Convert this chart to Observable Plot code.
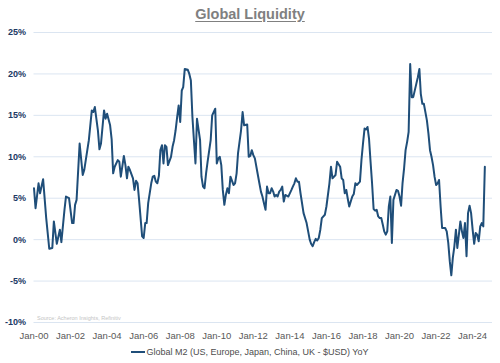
<!DOCTYPE html>
<html>
<head>
<meta charset="utf-8">
<script src="https://cdn.jsdelivr.net/npm/d3@7"></script>
<script src="https://cdn.jsdelivr.net/npm/@observablehq/plot@0.6"></script>
<style>
  html, body { margin: 0; padding: 0; background: #fff; }
  body { width: 500px; height: 363px; overflow: hidden; font-family: "Liberation Sans", Arial, sans-serif; }
  #title { height: 28px; line-height: 28px; text-align: center; font-size: 14.5px; font-weight: bold; color: #808080; }
  #title span { text-decoration: underline; text-underline-offset: 2px; }
  #legend { height: 12px; line-height: 12px; display: flex; justify-content: center; align-items: center; font-size: 9px; color: #4d4d4d; }
  #legend .sw { width: 14px; height: 2.5px; background: #1f4e79; margin-right: 1px; }
</style>
</head>
<body>
<div id="title"><span>Global Liquidity</span></div>
<div id="chart"></div>
<div id="legend"><div class="sw"></div><div id="legtext"></div></div>
<script>
const titleText = "Global Liquidity";
const seriesName = "Global M2 (US, Europe, Japan, China, UK - $USD) YoY";
const sourceText = "Source: Acheron Insights, Refinitiv";

const months = [
  "2000-01","2000-02","2000-04","2000-05","2000-07","2000-09","2000-11",
  "2001-01","2001-02","2001-04","2001-06","2001-07","2001-09","2001-10","2001-12",
  "2002-02","2002-03","2002-04","2002-05","2002-07","2002-09","2002-10",
  "2003-01","2003-03","2003-04","2003-05","2003-07","2003-08","2003-09","2003-11","2003-12",
  "2004-01","2004-03","2004-04","2004-05","2004-06","2004-08","2004-09","2004-10","2004-12",
  "2005-01","2005-02","2005-03","2005-04","2005-06","2005-07","2005-08","2005-09","2005-10","2005-12",
  "2006-01","2006-02","2006-03","2006-04","2006-06","2006-07","2006-08","2006-09","2006-10","2006-11","2006-12",
  "2007-01","2007-02","2007-03","2007-04","2007-05","2007-07","2007-08","2007-09","2007-10","2007-11","2007-12",
  "2008-01","2008-02","2008-03","2008-04","2008-06","2008-07","2008-08","2008-09","2008-10","2008-11","2008-12",
  "2009-02","2009-03","2009-04","2009-05","2009-06","2009-07","2009-09","2009-10","2009-12",
  "2010-01","2010-02","2010-03","2010-04","2010-05","2010-06","2010-07","2010-08","2010-09","2010-10","2010-12",
  "2011-01","2011-02","2011-03","2011-05","2011-06","2011-07","2011-09","2011-10","2011-11","2011-12",
  "2012-01","2012-02","2012-04","2012-05","2012-06","2012-07","2012-08","2012-09","2012-10","2012-11","2012-12",
  "2013-01","2013-02","2013-03","2013-04","2013-05","2013-06","2013-07","2013-08","2013-09","2013-10","2013-12",
  "2014-02","2014-03","2014-04","2014-05","2014-06","2014-07","2014-08","2014-10","2014-12",
  "2015-01","2015-02","2015-03","2015-04","2015-05","2015-06","2015-07","2015-08","2015-09","2015-10","2015-12",
  "2016-01","2016-03","2016-04","2016-05","2016-07","2016-08","2016-10","2016-11","2016-12",
  "2017-01","2017-02","2017-03","2017-04","2017-05","2017-06","2017-07","2017-08","2017-09","2017-11","2017-12",
  "2018-01","2018-02","2018-03","2018-04","2018-05","2018-06","2018-07","2018-08","2018-09","2018-10","2018-11","2018-12",
  "2019-01","2019-02","2019-03","2019-04","2019-05","2019-06","2019-07","2019-08","2019-09","2019-11","2019-12",
  "2020-01","2020-02","2020-03","2020-04","2020-05","2020-06","2020-07","2020-08","2020-09","2020-10","2020-12",
  "2021-01","2021-02","2021-03","2021-04","2021-05","2021-07","2021-08","2021-09","2021-10","2021-11","2021-12",
  "2022-01","2022-02","2022-03","2022-04","2022-05","2022-07","2022-08","2022-09","2022-10","2022-11","2022-12",
  "2023-01","2023-02","2023-03","2023-04","2023-05","2023-06","2023-07","2023-08","2023-09","2023-10","2023-11","2023-12",
  "2024-01","2024-02","2024-03","2024-04","2024-05","2024-06","2024-07","2024-08","2024-09"
];

const m2YoY = [
  6.2,3.8,6.8,5.6,7.3,2.6,-1.1,
  -1.0,2.2,-0.5,1.2,-0.3,3.6,5.2,5.0,
  2.0,2.0,4.2,4.8,11.6,7.8,8.4,
  12.0,15.6,15.4,16.0,13.2,10.9,11.6,15.6,14.6,
  15.2,13.8,12.1,8.0,8.8,9.6,9.4,7.6,10.1,
  9.0,7.4,8.8,8.4,7.4,6.0,7.1,6.8,4.8,0.4,
  0.2,2.0,2.0,4.4,6.8,7.6,7.7,7.0,6.8,7.7,10.8,
  11.4,9.2,11.4,11.2,9.0,10.0,11.2,12.0,13.2,14.8,16.2,
  14.2,18.0,18.4,20.6,20.5,20.0,19.2,14.8,12.0,9.2,14.6,
  12.0,7.6,6.4,6.2,8.0,9.4,12.0,15.0,15.8,
  9.2,9.8,10.0,9.0,6.0,4.2,5.4,6.2,5.6,7.6,6.6,
  6.8,8.0,10.4,13.2,15.4,13.8,13.9,10.0,10.1,10.8,
  10.2,9.8,7.8,6.8,5.8,5.2,4.4,3.6,6.4,5.6,5.6,
  6.2,5.8,5.2,5.4,5.2,5.8,6.0,6.4,4.6,5.4,5.2,
  6.0,6.4,6.8,7.4,7.0,7.0,5.6,3.2,2.0,
  1.0,0.0,-0.5,-0.8,-0.3,0.1,-0.1,0.2,1.2,2.6,3.0,
  4.0,6.8,8.8,7.4,7.8,9.4,8.8,7.4,7.2,
  5.6,6.0,5.0,4.0,4.6,5.2,5.5,6.8,6.6,7.0,9.6,
  11.6,13.4,13.3,13.6,12.2,9.4,6.8,3.7,3.5,3.6,2.8,2.6,
  2.6,1.8,1.0,0.6,1.0,4.0,5.2,-0.4,4.8,6.0,5.9,
  5.2,4.1,6.8,8.6,10.8,11.8,13.0,21.2,17.2,17.2,18.8,
  19.6,20.6,17.6,16.4,16.4,14.4,12.8,10.8,10.0,9.0,7.6,
  6.6,6.8,7.2,4.0,1.4,1.4,1.0,-0.4,-2.6,-4.3,-2.2,
  -0.8,1.2,-1.0,0.6,2.2,1.0,0.2,2.0,-2.0,3.2,4.1,3.2,
  1.2,-0.5,0.8,0.6,-0.2,1.6,2.0,1.6,8.8
];

const yTicks = [-10, -5, 0, 5, 10, 15, 20, 25];
const xTickLabels = ["Jan-00","Jan-02","Jan-04","Jan-06","Jan-08","Jan-10","Jan-12",
                     "Jan-14","Jan-16","Jan-18","Jan-20","Jan-22","Jan-24"];
const xDomain = ["2000-01", "2025-02"];

const parseMonth = d3.utcParse("%Y-%m");
const parseTick = d3.utcParse("%b-%y");
const data = months.map((m, i) => ({date: parseMonth(m), value: m2YoY[i]}));
const xTicks = xTickLabels.map(parseTick);

document.querySelector("#title span").textContent = titleText;
document.getElementById("legtext").textContent = seriesName;

const chart = Plot.plot({
  width: 500,
  height: 318,
  marginLeft: 33.5,
  marginRight: 8,
  marginTop: 4,
  marginBottom: 24,
  style: {fontFamily: "'Liberation Sans', Arial, sans-serif", overflow: "visible", background: "transparent"},
  x: {type: "utc", domain: xDomain.map(parseMonth)},
  y: {domain: [-10, 25]},
  marks: [
    Plot.gridY(yTicks, {stroke: "#dbe5f1", strokeOpacity: 1, strokeWidth: 1}),
    Plot.text([sourceText], {frameAnchor: "bottom-left", dx: 3, dy: -3, fontSize: 5.5, fill: "#c4c4c4"}),
    Plot.line(data, {x: "date", y: "value", stroke: "#1f4e79", strokeWidth: 2, strokeLinejoin: "round"}),
    Plot.axisX(xTicks, {tickSize: 0, tickPadding: 10, tickFormat: d3.utcFormat("%b-%y"), fontSize: 9.5, fill: "#595959", label: null}),
    Plot.axisY(yTicks, {tickSize: 0, tickPadding: 8, tickFormat: d => d + "%", fontSize: 9, fill: "#203864", fontWeight: "bold", label: null})
  ]
});
document.getElementById("chart").appendChild(chart);
</script>
</body>
</html>
